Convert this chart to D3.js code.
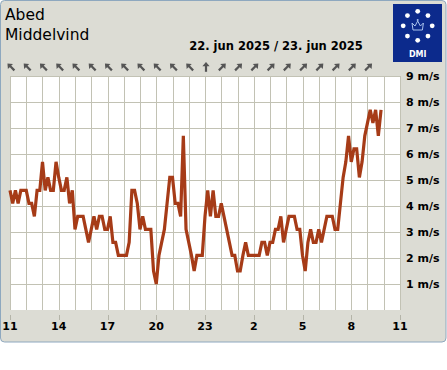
<!DOCTYPE html>
<html>
<head>
<meta charset="utf-8">
<script src="https://cdn.jsdelivr.net/npm/d3@7"></script>
<style>
  body { margin: 0; background: #fff; }
  text { font-family: "DejaVu Sans", sans-serif; }
</style>
</head>
<body>
<script>
var width = 447, height = 370;

// wind speed in m/s, one reading every 10 minutes from 11:00
var speed = [
  4.6, 4.1, 4.6, 4.1, 4.6, 4.6, 4.6, 4.1, 4.1, 3.6, 4.6, 4.6,
  5.7, 4.6, 5.1, 4.6, 4.6, 5.7, 5.1, 4.6, 4.6, 5.1, 4.1, 4.6,
  3.1, 3.6, 3.6, 3.6, 3.1, 2.6, 3.1, 3.6, 3.1, 3.6, 3.6, 3.1,
  3.1, 3.6, 2.6, 2.6, 2.1, 2.1, 2.1, 2.1, 2.6, 4.6, 4.6, 4.1,
  3.1, 3.6, 3.1, 3.1, 3.1, 1.5, 1.0, 2.1, 2.6, 3.1, 4.1, 5.1,
  5.1, 4.1, 4.1, 3.6, 6.7, 3.1, 2.6, 2.1, 1.5, 2.1, 2.1, 2.1,
  3.6, 4.6, 3.6, 4.6, 3.6, 3.6, 4.1, 3.6, 3.1, 2.6, 2.1, 2.1,
  1.5, 1.5, 2.1, 2.6, 2.1, 2.1, 2.1, 2.1, 2.1, 2.6, 2.6, 2.1,
  2.6, 2.6, 3.1, 3.1, 3.6, 2.6, 3.1, 3.6, 3.6, 3.6, 3.1, 3.1,
  2.1, 1.5, 2.6, 3.1, 2.6, 2.6, 3.1, 2.6, 3.1, 3.6, 3.6, 3.6,
  3.1, 3.1, 4.1, 5.1, 5.7, 6.7, 5.7, 6.2, 6.2, 5.1, 5.7, 6.7,
  7.2, 7.7, 7.2, 7.7, 6.7, 7.7
];

// hourly wind direction arrows (degrees, 0 = pointing up)
var arrowDir = [
  -45, -45, -45, -45, -45, -45, -45, -45, -45, -45, -45, -45,
  0, 45, 45, 45, 45, 45, 45, 45, 45, 45, 45
];

var tickHours = [0, 3, 6, 9, 12, 15, 18, 21, 24];
var tickLabels = ["11", "14", "17", "20", "23", "2", "5", "8", "11"];
var yTicks = [1, 2, 3, 4, 5, 6, 7, 8, 9];

var svg = d3.select("body").append("svg")
    .attr("width", width)
    .attr("height", height);

// panel
svg.append("rect")
    .attr("x", 0.5).attr("y", 0.5)
    .attr("width", 445.5).attr("height", 341.5)
    .attr("rx", 4)
    .attr("fill", "#dcdcd4")
    .attr("stroke", "#8ea8bf");

var x = d3.scaleLinear().domain([0, 24]).range([10, 400]);
var y = d3.scaleLinear().domain([0, 9]).range([310, 76]);

// plot area
svg.append("rect")
    .attr("x", x(0)).attr("y", y(9))
    .attr("width", x(24) - x(0)).attr("height", y(0) - y(9))
    .attr("fill", "#fff");

var grid = svg.append("g")
    .attr("stroke", "#c2c2b4")
    .attr("stroke-width", 1)
    .attr("shape-rendering", "crispEdges");

grid.selectAll(".v")
    .data(d3.range(0, 25))
    .enter().append("line")
    .attr("x1", function(d) { return Math.round(x(d)) + 0.5; })
    .attr("x2", function(d) { return Math.round(x(d)) + 0.5; })
    .attr("y1", y(9)).attr("y2", y(0));

grid.selectAll(".h")
    .data(yTicks)
    .enter().append("line")
    .attr("x1", x(0)).attr("x2", x(24))
    .attr("y1", function(d) { return Math.round(y(d)) + 0.5; })
    .attr("y2", function(d) { return Math.round(y(d)) + 0.5; });

// x axis ticks & labels
var xa = svg.append("g");
xa.selectAll("line")
    .data(tickHours)
    .enter().append("line")
    .attr("x1", function(d) { return Math.round(x(d)) + 0.5; })
    .attr("x2", function(d) { return Math.round(x(d)) + 0.5; })
    .attr("y1", 315).attr("y2", 320)
    .attr("stroke", "#b4b4a8");
xa.selectAll("text")
    .data(tickHours)
    .enter().append("text")
    .attr("x", function(d) { return x(d); })
    .attr("y", 330)
    .attr("text-anchor", "middle")
    .attr("font-size", 11)
    .attr("font-weight", "bold")
    .text(function(d, i) { return tickLabels[i]; });

// y labels
svg.append("g").selectAll("text")
    .data(yTicks)
    .enter().append("text")
    .attr("x", 406)
    .attr("y", function(d) { return y(d); })
    .attr("dy", "0.36em")
    .attr("font-size", 11)
    .attr("font-weight", "bold")
    .text(function(d) { return d + " m/s"; });

// wind line
var line = d3.line()
    .x(function(d, i) { return x(i / 6); })
    .y(function(d) { return y(d); });

svg.append("path")
    .datum(speed)
    .attr("d", line)
    .attr("fill", "none")
    .attr("stroke", "#a63b17")
    .attr("stroke-width", 3.2)
    .attr("stroke-linejoin", "miter");

// direction arrows
var arrows = svg.append("g").selectAll("g")
    .data(arrowDir)
    .enter().append("g")
    .attr("transform", function(d, i) { return "translate(" + (x(i) + 1) + ",67) rotate(" + d + ")"; });
arrows.append("path")
    .attr("d", "M0,-2L0,4.8")
    .attr("stroke", "#555")
    .attr("stroke-width", 2.2);
arrows.append("path")
    .attr("d", "M-3.6,-0.8L0,-5L3.6,-0.8Z")
    .attr("fill", "#555");

// titles
svg.append("text").attr("x", 5).attr("y", 20)
    .attr("font-size", 15.5).text("Abed");
svg.append("text").attr("x", 5).attr("y", 40)
    .attr("font-size", 15.5).text("Middelvind");
svg.append("text").attr("x", 276).attr("y", 50)
    .attr("text-anchor", "middle")
    .attr("font-size", 11.5).attr("font-weight", "bold")
    .text("22. jun 2025 / 23. jun 2025");

// DMI logo
var logo = svg.append("g");
logo.append("rect")
    .attr("x", 393).attr("y", 4)
    .attr("width", 49).attr("height", 58)
    .attr("fill", "#0c2a8c");
logo.selectAll("circle")
    .data(d3.range(8))
    .enter().append("circle")
    .attr("cx", function(d) { return 417.7 + 14.5 * Math.sin(d * Math.PI / 4); })
    .attr("cy", function(d) { return 25.8 - 14.5 * Math.cos(d * Math.PI / 4); })
    .attr("r", 2.4)
    .attr("fill", "#fff");
logo.append("path")
    .attr("d", "M413,30L412,23L415,26L417.7,21L420.4,26L423.4,23L422.4,30Z")
    .attr("fill", "none")
    .attr("stroke", "#a9c2ec")
    .attr("stroke-width", 1);
logo.append("circle")
    .attr("cx", 417.7).attr("cy", 20).attr("r", 1)
    .attr("fill", "#a9c2ec");
logo.append("text")
    .attr("x", 417.7).attr("y", 57)
    .attr("text-anchor", "middle")
    .attr("font-size", 8).attr("font-weight", "bold")
    .attr("fill", "#fff")
    .text("DMI");
</script>
</body>
</html>
